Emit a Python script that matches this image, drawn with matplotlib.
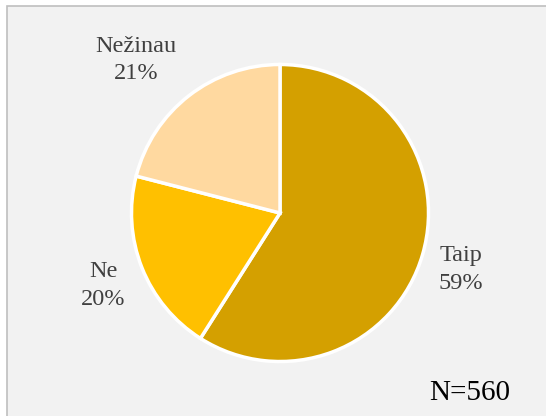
import matplotlib
matplotlib.use('Agg')
import matplotlib.pyplot as plt
from matplotlib.patches import Rectangle

labels = ['Taip', 'Ne', 'Nežinau']
values = [59, 20, 21]
colors = ['#D4A000', '#FFC000', '#FFD9A0']
n_total = 560

# label placement (pie data units)
label_xy = [(1.22, -0.38), (-1.19, -0.49), (-0.97, 1.03)]

plt.rcParams['font.family'] = ['Liberation Serif', 'DejaVu Serif']

W, H = 546, 416
fig = plt.figure(figsize=(W / 100, H / 100), dpi=100)
fig.patch.set_facecolor('white')

# chart area frame (goes off the right and bottom edges)
fig.patches.append(Rectangle((7 / W, -0.1), 1.0, (H - 6) / H + 0.1,
                             transform=fig.transFigure, facecolor='#F2F2F2',
                             edgecolor='#BFBFBF', linewidth=1.2, zorder=-10))

cx, cy, r = 280, 213, 150
ax = fig.add_axes([(cx - r) / W, (H - cy - r) / H, 2 * r / W, 2 * r / H])
ax.set_zorder(5)
ax.pie(values, colors=colors, startangle=90, counterclock=False,
       wedgeprops=dict(edgecolor='white', linewidth=2.5))
ax.set_xlim(-1.01, 1.01)
ax.set_ylim(-1.01, 1.01)
ax.set_aspect('equal')
ax.axis('off')

for lab, v, (x, y) in zip(labels, values, label_xy):
    ax.text(x, y, f'{lab}\n{v}%', ha='center', va='center', multialignment='center',
            fontsize=17.5, color='#404040', linespacing=1.42, clip_on=False)

fig.text(470 / W, 1 - 393 / H, f'N={n_total}', ha='center', va='center',
         fontsize=21, color='black', zorder=6)

fig.savefig('out.png', dpi=100)
